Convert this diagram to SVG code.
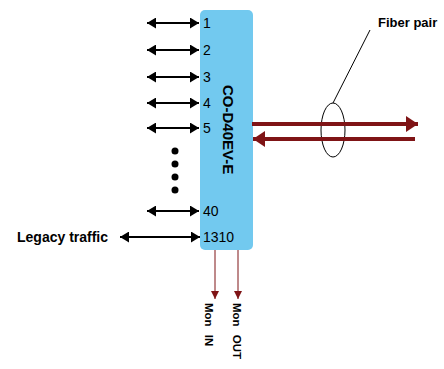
<svg xmlns="http://www.w3.org/2000/svg" width="444" height="369" viewBox="0 0 444 369">
<style>
.lbl{font-family:"Liberation Sans",Arial,sans-serif;font-size:14px;fill:#000}
.bold{font-family:"Liberation Sans",Arial,sans-serif;font-weight:bold;fill:#000}
.blk{stroke:#000;stroke-width:2;fill:none}
.red{stroke:#7F1416;fill:none}
</style>
<defs>
<marker id="ah" viewBox="0 0 9 11" refX="9" refY="5.5" markerWidth="9" markerHeight="11" markerUnits="userSpaceOnUse" orient="auto-start-reverse">
<path d="M0,0 L9,5.5 L0,11 Z" fill="#000"/>
</marker>
<marker id="rh" viewBox="0 0 12 16" refX="12" refY="8" markerWidth="12" markerHeight="16" markerUnits="userSpaceOnUse" orient="auto">
<path d="M0,0 L12,8 L0,16 Z" fill="#7F1416"/>
</marker>
<marker id="sh" viewBox="0 0 8 8" refX="8" refY="4" markerWidth="8" markerHeight="8" markerUnits="userSpaceOnUse" orient="auto">
<path d="M0,0 L8,4 L0,8 Z" fill="#7F1416"/>
</marker>
</defs>
<g id="mux">
<rect x="200" y="10" width="53" height="240" rx="5" fill="#72C9EF"/>
<text class="bold" font-size="15" transform="translate(223,85) rotate(90)">CO-D40EV-E</text>
<text class="lbl" x="203" y="28">1</text>
<text class="lbl" x="203" y="55">2</text>
<text class="lbl" x="203" y="82">3</text>
<text class="lbl" x="203" y="108">4</text>
<text class="lbl" x="203" y="133">5</text>
<text class="lbl" x="203" y="216">40</text>
<text class="lbl" x="203" y="242">1310</text>
</g>
<g id="dots" fill="#000">
<circle cx="175" cy="151" r="3.5"/>
<circle cx="175" cy="164" r="3.5"/>
<circle cx="175" cy="177" r="3.5"/>
<circle cx="175" cy="190" r="3.5"/>
</g>
<g id="legacy">
<text class="bold" font-size="14" x="17" y="242">Legacy traffic</text>
</g>
<g id="fiber-label">
<text class="bold" font-size="13" x="378" y="27">Fiber pair</text>
<ellipse cx="333" cy="130" rx="12" ry="27" fill="none" stroke="#000" stroke-width="1"/>
</g>
<g id="mon-in">
<text class="bold" font-size="11.5" word-spacing="5" transform="translate(205,303) rotate(90)">Mon IN</text>
</g>
<g id="mon-out">
<text class="bold" font-size="11.5" word-spacing="5" transform="translate(233,303) rotate(90)">Mon OUT</text>
</g>
<g id="connectors">
<line class="blk" x1="147" y1="23" x2="199" y2="23" marker-start="url(#ah)" marker-end="url(#ah)"/>
<line class="blk" x1="147" y1="50" x2="199" y2="50" marker-start="url(#ah)" marker-end="url(#ah)"/>
<line class="blk" x1="147" y1="77" x2="199" y2="77" marker-start="url(#ah)" marker-end="url(#ah)"/>
<line class="blk" x1="147" y1="103" x2="199" y2="103" marker-start="url(#ah)" marker-end="url(#ah)"/>
<line class="blk" x1="147" y1="128" x2="199" y2="128" marker-start="url(#ah)" marker-end="url(#ah)"/>
<line class="blk" x1="147" y1="211" x2="199" y2="211" marker-start="url(#ah)" marker-end="url(#ah)"/>
<line class="blk" x1="120" y1="237" x2="200" y2="237" marker-start="url(#ah)" marker-end="url(#ah)"/>
<line class="red" stroke-width="4" x1="252" y1="124" x2="418" y2="124" marker-end="url(#rh)"/>
<line class="red" stroke-width="4" x1="415" y1="139" x2="253" y2="139" marker-end="url(#rh)"/>
<line class="red" stroke-width="1" x1="215" y1="250" x2="215" y2="299" marker-end="url(#sh)"/>
<line class="red" stroke-width="1" x1="238" y1="250" x2="238" y2="299" marker-end="url(#sh)"/>
<line stroke="#000" stroke-width="1" x1="333" y1="103" x2="370" y2="30"/>
</g>
</svg>
